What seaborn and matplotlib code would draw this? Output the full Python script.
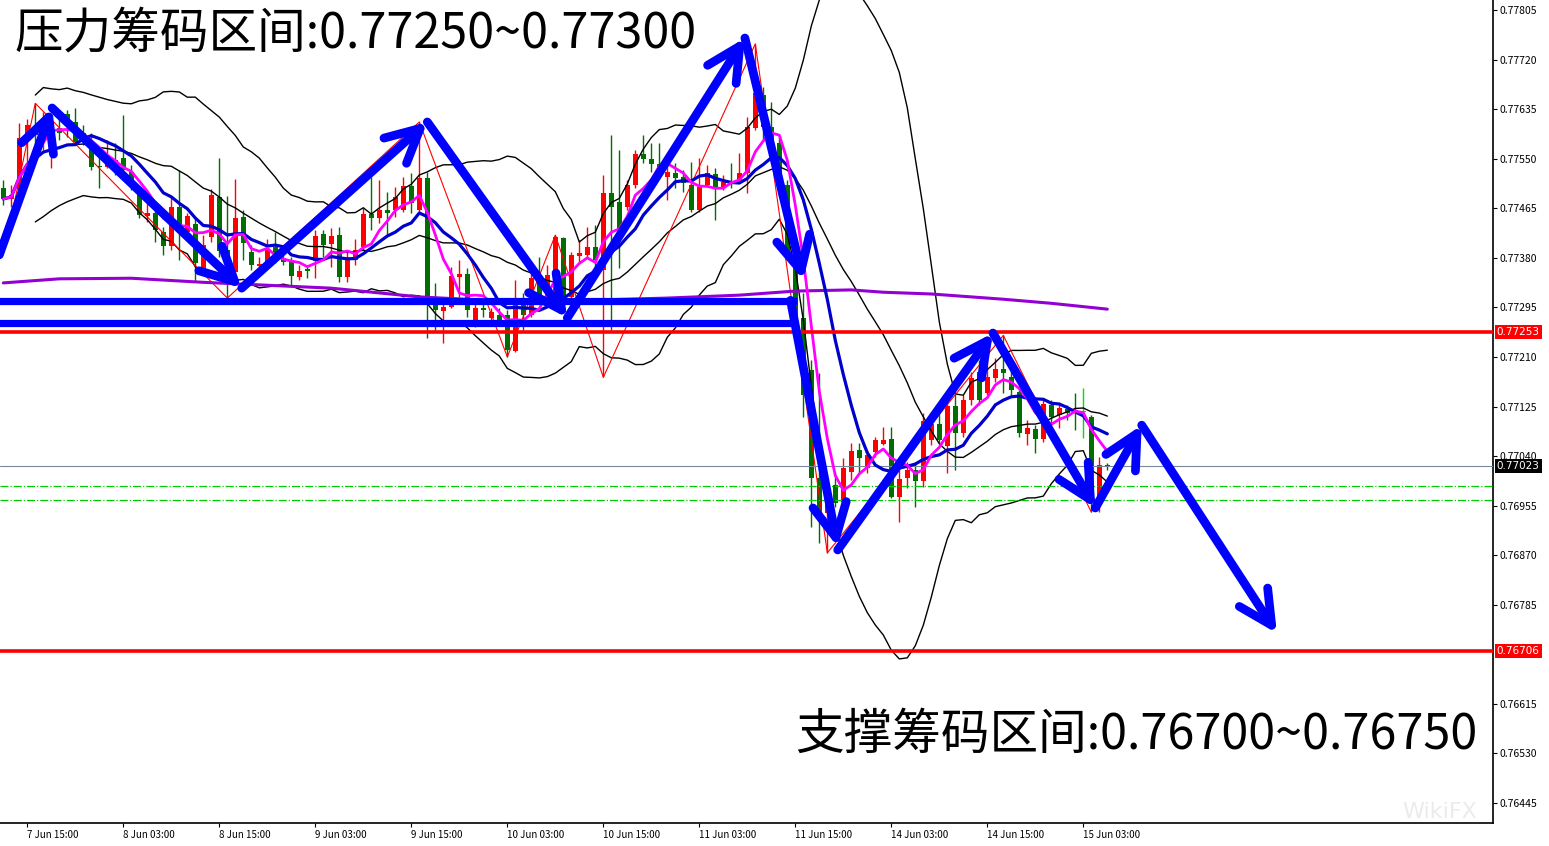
import numpy as np
import pandas as pd
import matplotlib
matplotlib.use("Agg")
import matplotlib.pyplot as plt
import seaborn as sns

# AUDUSD H1 bars, prices in points (price * 1e5), bar 0 = 7 Jun 12:00
open_pts = [77500, 77481, 77496, 77582, 77601, 77590, 77577, 77602, 77626, 77613,
            77594, 77573, 77537, 77536, 77548, 77551, 77527, 77493, 77452, 77457,
            77424, 77400, 77467, 77424, 77438, 77359, 77416, 77484, 77393, 77355,
            77450, 77390, 77366, 77371, 77398, 77380, 77376, 77347, 77361, 77374,
            77421, 77403, 77419, 77347, 77376, 77398, 77455, 77448, 77462, 77462,
            77462, 77503, 77462, 77517, 77313, 77289, 77295, 77347, 77352, 77273,
            77294, 77277, 77282, 77282, 77220, 77302, 77282, 77342, 77307, 77316,
            77414, 77313, 77383, 77385, 77398, 77359, 77491, 77476, 77467, 77505,
            77558, 77549, 77541, 77518, 77525, 77518, 77505, 77462, 77505, 77524,
            77500, 77510, 77510, 77525, 77602, 77659, 77604, 77577, 77505, 77388,
            77277, 77187, 77002, 76942, 76990, 76961, 77012, 77050, 77019, 77047,
            77060, 77069, 76970, 77002, 77016, 76997, 77067, 77095, 77057, 77126,
            77079, 77136, 77184, 77148, 77174, 77189, 77175, 77150, 77078, 77086,
            77069, 77127, 77110, 77121, 77119, 77115, 77107, 76970, 77024]
high_pts = [77513, 77505, 77611, 77618, 77645, 77630, 77611, 77625, 77633, 77637,
            77608, 77594, 77556, 77582, 77577, 77625, 77539, 77501, 77476, 77462,
            77433, 77484, 77530, 77457, 77450, 77419, 77498, 77551, 77486, 77515,
            77462, 77402, 77381, 77412, 77424, 77393, 77381, 77367, 77367, 77428,
            77428, 77431, 77433, 77393, 77412, 77465, 77518, 77513, 77493, 77501,
            77518, 77525, 77613, 77527, 77337, 77311, 77364, 77376, 77362, 77302,
            77302, 77294, 77294, 77290, 77342, 77319, 77354, 77381, 77367, 77419,
            77416, 77390, 77410, 77433, 77436, 77522, 77590, 77565, 77513, 77565,
            77590, 77577, 77577, 77542, 77542, 77530, 77544, 77551, 77539, 77534,
            77522, 77542, 77560, 77621, 77747, 77673, 77647, 77587, 77513, 77402,
            77319, 77205, 77182, 76999, 77011, 77037, 77062, 77062, 77050, 77072,
            77090, 77090, 77016, 77030, 77030, 77114, 77110, 77131, 77136, 77148,
            77145, 77184, 77205, 77205, 77208, 77247, 77196, 77153, 77102, 77093,
            77136, 77136, 77131, 77127, 77148, 77157, 77110, 77038, 77028]
low_pts = [77470, 77467, 77488, 77542, 77548, 77565, 77534, 77582, 77587, 77573,
           77573, 77530, 77500, 77534, 77522, 77525, 77496, 77448, 77441, 77407,
           77385, 77393, 77376, 77416, 77338, 77355, 77407, 77381, 77311, 77354,
           77376, 77359, 77355, 77367, 77371, 77367, 77333, 77342, 77345, 77345,
           77381, 77364, 77338, 77338, 77367, 77393, 77428, 77440, 77419, 77450,
           77458, 77457, 77458, 77242, 77256, 77234, 77294, 77313, 77278, 77261,
           77278, 77265, 77265, 77210, 77218, 77256, 77278, 77313, 77302, 77313,
           77302, 77307, 77371, 77381, 77359, 77175, 77256, 77362, 77462, 77500,
           77542, 77527, 77525, 77479, 77500, 77493, 77458, 77458, 77501, 77445,
           77496, 77500, 77508, 77491, 77599, 77582, 77570, 77488, 77376, 77265,
           77107, 76918, 76891, 76874, 76952, 76959, 76999, 77011, 77011, 77038,
           77059, 76968, 76927, 76985, 76952, 76987, 77059, 77062, 77011, 77016,
           77072, 77127, 77127, 77145, 77167, 77148, 77145, 77072, 77059, 77045,
           77064, 77093, 77088, 77102, 77085, 77071, 76944, 76944, 77016]
close_pts = [77481, 77488, 77585, 77608, 77590, 77616, 77590, 77594, 77611, 77578,
             77587, 77536, 77536, 77544, 77530, 77530, 77501, 77453, 77457, 77428,
             77400, 77467, 77424, 77452, 77371, 77402, 77488, 77392, 77367, 77448,
             77405, 77367, 77369, 77393, 77388, 77373, 77349, 77357, 77357, 77417,
             77402, 77417, 77347, 77376, 77393, 77455, 77448, 77462, 77457, 77484,
             77503, 77474, 77517, 77313, 77290, 77295, 77349, 77352, 77290, 77294,
             77290, 77287, 77273, 77222, 77299, 77282, 77345, 77316, 77350, 77416,
             77313, 77385, 77388, 77398, 77376, 77491, 77467, 77416, 77505, 77558,
             77549, 77541, 77534, 77527, 77517, 77508, 77462, 77501, 77525, 77500,
             77510, 77508, 77525, 77604, 77662, 77604, 77577, 77505, 77388, 77277,
             77145, 77002, 76942, 76985, 76959, 77019, 77048, 77037, 77042, 77067,
             77067, 76970, 77000, 77016, 76997, 77100, 77095, 77067, 77126, 77079,
             77136, 77174, 77136, 77175, 77189, 77182, 77153, 77079, 77088, 77069,
             77129, 77107, 77122, 77114, 77114, 77115, 76964, 77024, 77023]

# long moving average (purple), read at some bars
purple_bars = [0, 7, 16, 25, 33, 41, 52, 62, 70, 83, 92, 99, 106, 110, 116, 120, 125, 131, 138]
purple_pts = [77337, 77344, 77345, 77338, 77333, 77328, 77313, 77306, 77306, 77311,
              77316, 77323, 77325, 77321, 77318, 77314, 77309, 77302, 77292]

# zigzag swing points
zigzag_bars = [0, 4, 28, 52, 63, 69, 75, 94, 103, 125, 136]
zigzag_pts = [77385, 77645, 77311, 77613, 77210, 77419, 77175, 77747, 76874, 77247, 76944]

xtick_bars = [3, 15, 27, 39, 51, 63, 75, 87, 99, 111, 123, 135]
xtick_labels = ['7 Jun 15:00', '8 Jun 03:00', '8 Jun 15:00', '9 Jun 03:00', '9 Jun 15:00',
                '10 Jun 03:00', '10 Jun 15:00', '11 Jun 03:00', '11 Jun 15:00',
                '14 Jun 03:00', '14 Jun 15:00', '15 Jun 03:00']
# 0.76700 sits under the support label box, so it is left out
ytick_labels = ['0.77805', '0.77720', '0.77635', '0.77550', '0.77465', '0.77380', '0.77295',
                '0.77210', '0.77125', '0.77040', '0.76955', '0.76870', '0.76785',
                '0.76615', '0.76530', '0.76445']

resist_level = 0.77253
support_level = 0.76706
last_price = 0.77023
green_levels = [0.76989, 0.76965]
box_levels = [0.77306, 0.77269]
box_end_bar = 99.2

# hand drawn blue arrows (bar, price)
arrow_path_a = [(-0.5, 0.77385), (6.1, 0.77637), (29.8, 0.77328), (53.0, 0.77613),
                (70.5, 0.77277), (92.7, 0.77757), (100.0, 0.77342)]
arrow_path_b = [(98.4, 0.77307), (104.3, 0.76884)]
arrow_path_c = [(104.3, 0.76879), (123.7, 0.77251), (136.5, 0.76951),
                (142.3, 0.77093), (159.2, 0.76736)]

title_top = '压力筹码区间:0.77250~0.77300'
title_bottom = '支撑筹码区间:0.76700~0.76750'

sns.set_style('white')
plt.rcParams['font.family'] = ['Noto Sans CJK SC', 'DejaVu Sans']

df = pd.DataFrame({'open': open_pts, 'high': high_pts, 'low': low_pts, 'close': close_pts}) / 1e5
df['bar'] = np.arange(len(df))
df['ma5'] = df['close'].rolling(5, min_periods=1).mean()
df['ma10'] = df['close'].rolling(10, min_periods=1).mean()
mid = df['close'].rolling(20, min_periods=5).mean()
sd = df['close'].rolling(20, min_periods=5).std(ddof=0)
df['bb_mid'] = mid
df['bb_up'] = mid + 2 * sd
df['bb_dn'] = mid - 2 * sd

fig = plt.figure(figsize=(15.49, 8.46), dpi=100)
ax = fig.add_axes([0, 23 / 846, 1493 / 1549, 823 / 846])

# candles
for _, r in df.iterrows():
    if r['close'] > r['open']:
        col = '#ff0000'
    elif r['close'] < r['open']:
        col = '#006e00'
    else:
        col = '#00e000'
    ax.vlines(r['bar'], r['low'], r['high'], colors=col, lw=1, zorder=2)
    h = max(abs(r['close'] - r['open']), 0.000018)
    ax.bar(r['bar'], h, bottom=min(r['open'], r['close']), width=0.62, color=col,
           linewidth=0, zorder=2)

for c in ['bb_up', 'bb_mid', 'bb_dn']:
    sns.lineplot(data=df, x='bar', y=c, ax=ax, color='black', lw=1.0, zorder=3)
sns.lineplot(x=zigzag_bars, y=np.array(zigzag_pts) / 1e5, ax=ax, color='#ff0000', lw=0.8, zorder=3)
sns.lineplot(x=purple_bars, y=np.array(purple_pts) / 1e5, ax=ax, color='#9400d3', lw=2.2, zorder=3)
sns.lineplot(data=df, x='bar', y='ma10', ax=ax, color='#0000cd', lw=2.3, zorder=4)
sns.lineplot(data=df, x='bar', y='ma5', ax=ax, color='#ff00ff', lw=2.0, zorder=4)

# levels
ax.axhline(last_price, color='#778899', lw=0.8, zorder=3)
for lv in green_levels:
    ax.axhline(lv, color='#00cc00', lw=0.9, ls='-.', zorder=3)
ax.axhline(resist_level, color='#ff0000', lw=2.6, zorder=5)
ax.axhline(support_level, color='#ff0000', lw=2.6, zorder=5)
ax.hlines(box_levels, -1, box_end_bar, colors='#0000ff', lw=5.2, zorder=6)


def draw_path(path):
    for (x0, y0), (x1, y1) in zip(path[:-1], path[1:]):
        ax.annotate('', xy=(x1, y1), xytext=(x0, y0), annotation_clip=False, zorder=6,
                    arrowprops=dict(arrowstyle='->,head_length=0.75,head_width=0.38',
                                    lw=6.3, color='#0000ff', shrinkA=0, shrinkB=0,
                                    mutation_scale=32, capstyle='round', joinstyle='round'))


draw_path(arrow_path_a)
draw_path(arrow_path_b)
draw_path(arrow_path_c)

ax.set_xlim(-0.4125, 186.21)
ax.set_ylim(0.764107, 0.778222)
ax.set_xlabel('')
ax.set_ylabel('')

ax.yaxis.tick_right()
ax.set_yticks([float(t) for t in ytick_labels])
ax.set_yticklabels(ytick_labels)
ax.set_xticks(xtick_bars)
ax.set_xticklabels(xtick_labels)
for lab in ax.get_xticklabels():
    lab.set_horizontalalignment('left')
ax.tick_params(axis='y', direction='out', length=3, width=0.8, labelsize=7.5, pad=2,
               colors='black', left=False, right=True)
ax.tick_params(axis='x', direction='out', length=3, width=0.8, labelsize=7, pad=2,
               colors='black', bottom=True)
for s in ['top', 'left']:
    ax.spines[s].set_visible(False)
for s in ['right', 'bottom']:
    ax.spines[s].set_color('black')
    ax.spines[s].set_linewidth(1.2)

# price labels on the axis
tr = ax.get_yaxis_transform()
for lv, fc in [(resist_level, '#ff0000'), (support_level, '#ff0000'), (last_price, 'black')]:
    ax.text(1.0025, lv, f'{lv:.5f}', transform=tr, ha='left', va='center', fontsize=7.5,
            color='white', clip_on=False, zorder=8, family='DejaVu Sans',
            bbox=dict(boxstyle='square,pad=0.2', fc=fc, ec='none'))

fig.text(15 / 1549, 1 - 34 / 846, title_top, fontsize=35, color='black', va='center', ha='left')
fig.text(795 / 1549, 1 - 735 / 846, title_bottom, fontsize=35, color='black', va='center', ha='left')
fig.text(1440 / 1549, 1 - 812 / 846, 'WikiFX', fontsize=16, color='#d8d8d8', alpha=0.5,
         va='center', ha='center', family='DejaVu Sans')

fig.savefig('out.png', dpi=100)
